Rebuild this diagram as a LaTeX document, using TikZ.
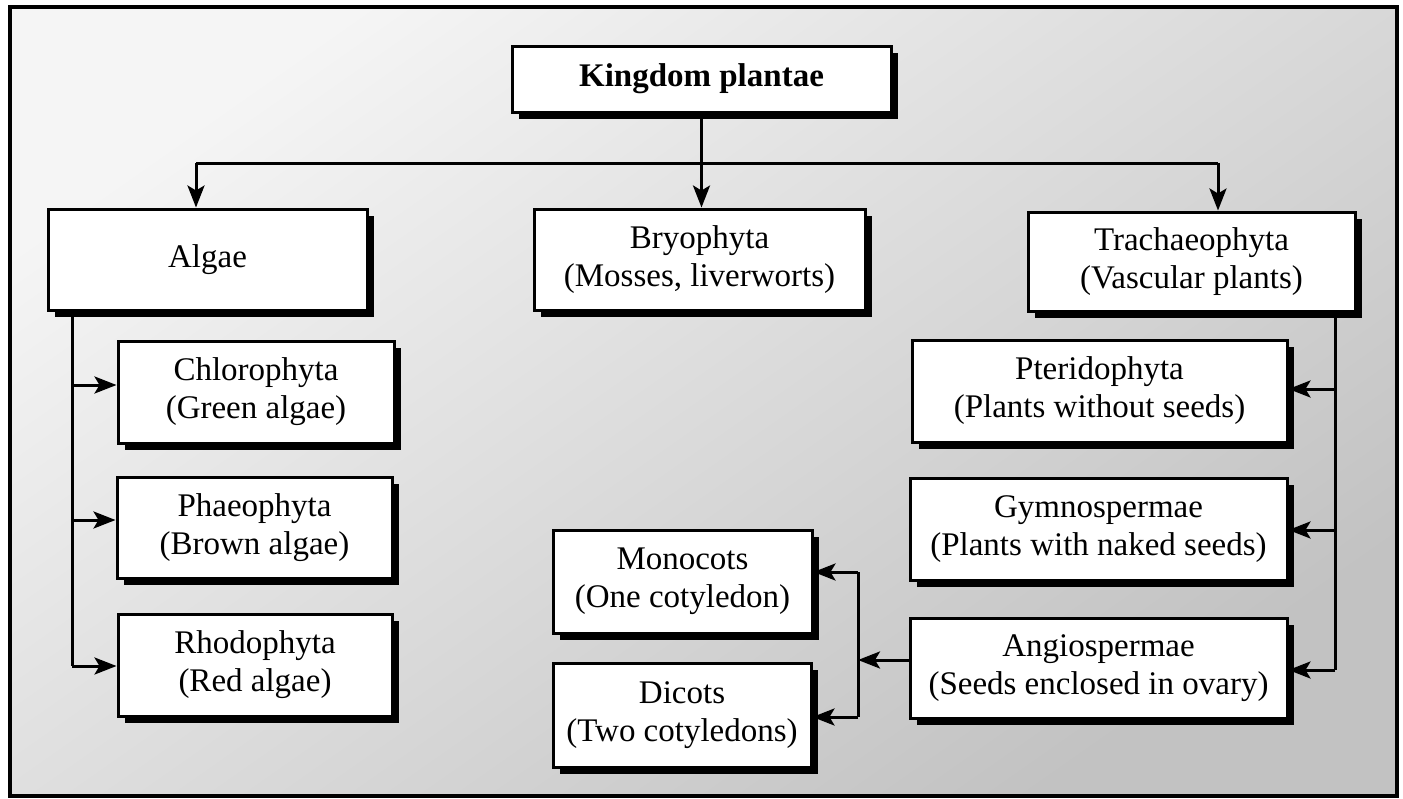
\documentclass[tikz,border=0pt]{standalone}
\usepackage{fontspec}
\setmainfont{Liberation Serif}
\usetikzlibrary{arrows.meta,shadows,calc}
\begin{document}
\begin{tikzpicture}[x=1pt,y=-1pt,
  box/.style={draw=black, line width=3pt, fill=white, align=center, inner sep=0pt,
    font=\fontsize{33}{38}\selectfont,
    drop shadow={shadow xshift=7pt, shadow yshift=-7pt, fill=black, opacity=1}},
  conn/.style={line width=3pt},
  arr/.style={line width=3pt, -{Stealth[length=22pt,width=17pt,inset=5pt]}}]
\useasboundingbox (0,0) rectangle (1403,798);
% background
\shade[top color=gray!8, bottom color=gray!48, shading angle=35] (10,7) rectangle (1397,796);
\draw[line width=3.5pt] (10,7) rectangle (1397,796);
% nodes
\node[box, minimum width=379pt, minimum height=66pt, font=\fontsize{33}{38}\selectfont\bfseries] (K) at (701.5,79) {Kingdom plantae};
\node[box, minimum width=319pt, minimum height=101pt] (Algae) at (207.5,259.5) {Algae};
\node[box, minimum width=331pt, minimum height=101pt] (Bryo) at (699.5,259.5) {Bryophyta\\(Mosses, liverworts)};
\node[box, minimum width=327pt, minimum height=99pt] (Trach) at (1191.5,261.5) {Trachaeophyta\\(Vascular plants)};
\node[box, minimum width=276pt, minimum height=102pt] (Chloro) at (256,392) {Chlorophyta\\(Green algae)};
\node[box, minimum width=275pt, minimum height=101pt] (Phaeo) at (254.5,527.5) {Phaeophyta\\(Brown algae)};
\node[box, minimum width=274pt, minimum height=102pt] (Rhodo) at (255,665) {Rhodophyta\\(Red algae)};
\node[box, minimum width=375pt, minimum height=102pt] (Pterido) at (1099.5,391) {Pteridophyta\\(Plants without seeds)};
\node[box, minimum width=377pt, minimum height=102pt] (Gymno) at (1098.5,529) {Gymnospermae\\(Plants with naked seeds)};
\node[box, minimum width=377pt, minimum height=100pt] (Angio) at (1098.5,668) {Angiospermae\\(Seeds enclosed in ovary)};
\node[box, minimum width=259pt, minimum height=103pt] (Mono) at (682.5,581.5) {Monocots\\(One cotyledon)};
\node[box, minimum width=258pt, minimum height=104pt] (Dicot) at (682,715) {Dicots\\(Two cotyledons)};
% top connectors
\coordinate (hubL) at (196,163);
\coordinate (hubR) at (1218,163);
\draw[conn] (hubL) -- (hubR);
\draw[arr] (hubL) -- (hubL |- Algae.north);
\draw[arr] (hubR) -- (hubR |- Trach.north);
\draw[arr] (K.south) -- (K.south |- Bryo.north);
% algae rail
\coordinate (aT) at (72,310);
\coordinate (a1) at (72,385);
\coordinate (a2) at (72,520);
\coordinate (a3) at (72,666);
\draw[conn] (aT |- Algae.south) -- (a3);
\draw[arr] (a1) -- (a1 -| Chloro.west);
\draw[arr] (a2) -- (a2 -| Phaeo.west);
\draw[arr] (a3) -- (a3 -| Rhodo.west);
% trachaeophyta rail
\coordinate (t1) at (1335,389);
\coordinate (t2) at (1335,530);
\coordinate (t3) at (1335,670);
\draw[conn] (t1 |- Trach.south) -- (t3);
\draw[arr] (t1) -- (t1 -| Pterido.east);
\draw[arr] (t2) -- (t2 -| Gymno.east);
\draw[arr] (t3) -- (t3 -| Angio.east);
% angiosperm split
\coordinate (j) at (858,660);
\coordinate (m1) at (858,572);
\coordinate (d1) at (858,717);
\draw[arr] (j -| Angio.west) -- (j);
\draw[conn] (m1) -- (d1);
\draw[arr] (m1) -- (m1 -| Mono.east);
\draw[arr] (d1) -- (d1 -| Dicot.east);
\end{tikzpicture}
\end{document}
